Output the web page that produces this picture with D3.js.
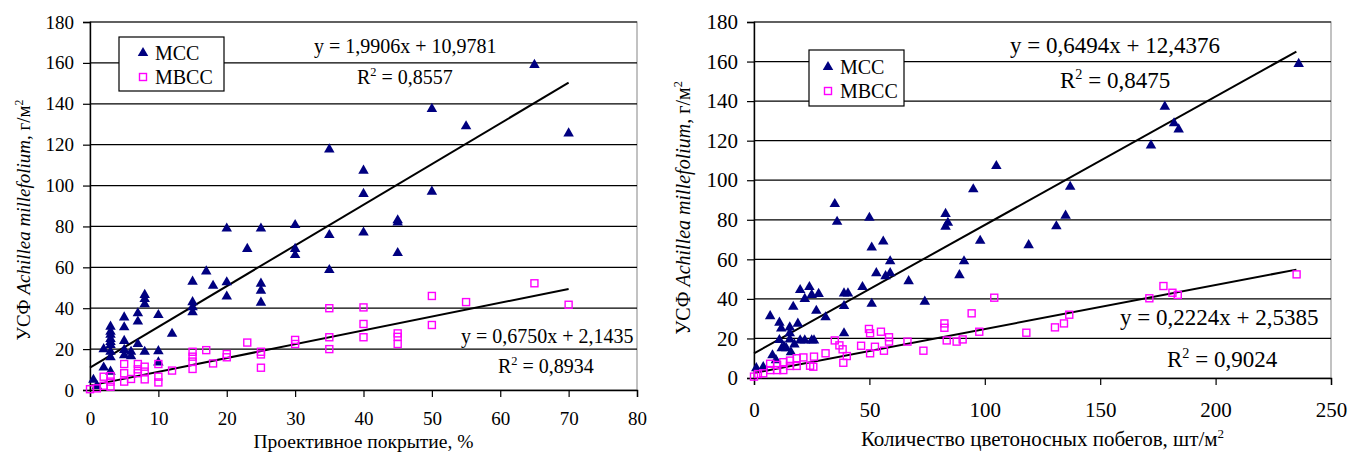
<!DOCTYPE html>
<html>
<head>
<meta charset="utf-8">
<script src="https://cdn.jsdelivr.net/npm/d3@7"></script>
<style>
  body { margin: 0; background: #fff; }
  text { font-family: "Liberation Serif", "Times New Roman", serif; fill: #000; }
</style>
</head>
<body>
<svg id="chart" width="1348" height="452"></svg>
<script>
// ---- data ----
var yTicks = [0, 20, 40, 60, 80, 100, 120, 140, 160, 180];
var coverTicks = [0, 10, 20, 30, 40, 50, 60, 70, 80];
var shootTicks = [0, 50, 100, 150, 200, 250];
var seriesNames = ["МСС", "МВСС"];

// projective cover (%) vs biomass
var coverMcc = [
  [0.5,5],[1,2],[2,20],[2,11],
  [3,31],[3,28.5],[3,27],[3,25],[3,23.5],[3,22],[3,18.7],[3,16],[3,9],
  [5,35.5],[5,30.7],[5,24],[5,19.6],[5,17],
  [6,18.7],[6,16.5],
  [7,37.5],[7,33.5],[7,22.5],
  [8,46.5],[8,44.5],[8,42],[8,18.7],
  [10,36.7],[10,19],[10,13.5],
  [12,27.5],
  [15,53],[15,43],[15,40.5],[15,38],
  [17,58],[18,51],
  [20,79],[20,52.7],[20,45.7],
  [23,69],
  [25,79],[25,52],[25,48.6],[25,42.7],
  [30,80.7],[30,69],[30,66],
  [35,117.7],[35,75.8],[35,58.7],
  [40,107.3],[40,95.9],[40,77],
  [45,83],[45,82],[45,67],
  [50,137.5],[50,97],
  [55,129],
  [65,159],
  [70,125.5]
];
var coverMbcc = [
  [0,0.4],[1,0.8],[2,6.5],[2,2.1],[3,6.8],[3,4.1],[3,1.6],
  [5,12.7],[5,8.2],[5,4.1],[6,5.4],
  [7,12.7],[7,10.1],[7,8.2],
  [8,11.4],[8,9],[8,5.2],
  [10,12.7],[10,6.5],[10,3.7],
  [12,9.5],
  [15,18.7],[15,16.3],[15,13.9],[15,10.3],
  [17,19.5],[18,13],
  [20,17.6],[20,16],
  [23,23.2],
  [25,18.7],[25,17.4],[25,10.9],
  [30,24.5],[30,22.5],
  [35,40],[35,25.8],[35,20],
  [40,40.4],[40,32.3],[40,25.8],
  [45,27.7],[45,26],[45,22.5],
  [50,46],[50,31.8],
  [55,43],
  [65,52.2],
  [70,41.7]
];

// number of flowering shoots vs biomass
var shootMcc = [
  [1,5],[4,5.5],[8,11.5],[9.5,9],[7,31.3],
  [11,28],[11.8,25],[11,19.2],[12,15],[13,16],[14,15],[15.5,25.6],[15.5,22.6],[15.5,19.5],
  [16,13],[17,36],[17.5,17],[19,27.5],[20,19],[20,44.5],[22,40],[22,19],[24,46],[25,42],
  [25,19],[26,19],[27,34],[28,42.5],[31,30.7],
  [35,88],[36,79],[39,42.8],[40.7,42.8],[39,36.4],[39,22.6],[47,46],[50,81],[51,66],[51,37.5],
  [53,53],[56,69],[57,51.5],[59,59],[59,53],[67,49],[74,38.6],
  [83,83],[84,78.5],[83,76.5],[89,52],[91,59],[95,95.4],[98,69.4],[105,107.2],[119,67.2],
  [131,76.7],[135,82.1],[137,96.7],[172,117.6],[178,137.2],[182,128.8],[184,125.7],[236,158.8]
];
var shootMbcc = [
  [0,0.7],[1.7,2],[4,2.4],[7,7.2],[7,4],[10,6.6],[10,4],[12.7,8],[12.7,4],[15.6,8.8],[15.6,6.1],
  [18.5,10],[18.5,6.1],[21.4,10.4],[24.3,6.2],[26,10.8],[25.7,5.7],[31,12.5],[35,19],[37,16.5],
  [38.4,14.5],[38.7,7.7],[40.2,11.1],[46.4,16.3],[49.8,24.8],[50.3,22.6],[50.3,12.5],[52.4,15.8],
  [55,23.4],[56.3,13.8],[58.5,20.6],[58.5,18.4],[66.5,18.4],[73.4,13.8],[82.5,27.6],[82.5,25.4],
  [83.5,19],[87.8,18.4],[90.4,19.5],[94.3,32.7],[97.6,23.4],[104.1,40.6],[118,22.9],[130.4,25.6],
  [134.3,27.6],[136.6,32],[171.3,40.3],[177.4,46.5],[181.3,43.1],[183.6,42],[235.1,52.4]
];

// linear fits printed on the chart: slope, intercept, labels
var coverFitMcc = {a: 1.9906, b: 10.9781, eq: "y = 1,9906x + 10,9781", r2: "0,8557"};
var coverFitMbcc = {a: 0.6750, b: 2.1435, eq: "y = 0,6750x + 2,1435", r2: "0,8934"};
var shootFitMcc = {a: 0.6494, b: 12.4376, eq: "y = 0,6494x + 12,4376", r2: "0,8475"};
var shootFitMbcc = {a: 0.2224, b: 2.5385, eq: "y = 0,2224x + 2,5385", r2: "0,9024"};

var mccColor = "#000080";
var mbccColor = "#FF00FF";

var svg = d3.select("#chart");

function drawChart(o) {
  var g = svg.append("g");
  var x = d3.scaleLinear().domain([o.xTicks[0], o.xTicks[o.xTicks.length - 1]]).range([o.left, o.right]);
  var y = d3.scaleLinear().domain([0, 180]).range([o.bottom, o.top]);

  // plot frame (grey top/right)
  g.append("rect")
    .attr("x", o.left).attr("y", o.top)
    .attr("width", o.right - o.left).attr("height", o.bottom - o.top)
    .attr("fill", "none").attr("stroke", "#999").attr("stroke-width", 1.2);

  // horizontal grid
  g.selectAll("line.grid").data(yTicks.slice(1)).enter().append("line")
    .attr("class", "grid")
    .attr("x1", o.left).attr("x2", o.right)
    .attr("y1", function(d) { return y(d); }).attr("y2", function(d) { return y(d); })
    .attr("stroke", "#000").attr("stroke-width", 1.2);

  // axes
  var yAxis = g.append("g").attr("transform", "translate(" + o.left + ",0)")
    .call(d3.axisLeft(y).tickValues(yTicks).tickSize(7).tickPadding(9));
  var xAxis = g.append("g").attr("transform", "translate(0," + o.bottom + ")")
    .call(d3.axisBottom(x).tickValues(o.xTicks).tickSize(7).tickPadding(o.xPad));
  [yAxis, xAxis].forEach(function(ax) {
    ax.select(".domain").attr("stroke", "#000").attr("stroke-width", 1.4);
    ax.selectAll(".tick line").attr("stroke", "#000").attr("stroke-width", 1.2);
    ax.selectAll(".tick text").attr("font-size", o.tickFont + "px")
      .attr("font-family", "Liberation Serif").attr("fill", "#000");
  });

  // trend lines
  [o.fitMcc, o.fitMbcc].forEach(function(f) {
    g.append("line")
      .attr("x1", x(0)).attr("y1", y(f.b))
      .attr("x2", x(o.fitEnd)).attr("y2", y(f.a * o.fitEnd + f.b))
      .attr("stroke", "#000").attr("stroke-width", 2);
  });

  // MCC triangles
  var tri = d3.symbol().type(d3.symbolTriangle).size(48);
  g.selectAll("path.mcc").data(o.mcc).enter().append("path")
    .attr("class", "mcc")
    .attr("d", tri)
    .attr("transform", function(d) { return "translate(" + x(d[0]) + "," + y(d[1]) + ")"; })
    .attr("fill", mccColor);

  // MBCC squares
  g.selectAll("rect.mbcc").data(o.mbcc).enter().append("rect")
    .attr("class", "mbcc")
    .attr("x", function(d) { return x(d[0]) - 3.5; })
    .attr("y", function(d) { return y(d[1]) - 3.5; })
    .attr("width", 7).attr("height", 7)
    .attr("fill", "none").attr("stroke", mbccColor).attr("stroke-width", 1.4);

  // equations
  function eqLabel(f, pe, pr) {
    g.append("text").attr("x", pe[0]).attr("y", pe[1])
      .attr("font-size", o.eqFont + "px").text(f.eq);
    var t = g.append("text").attr("x", pr[0]).attr("y", pr[1]).attr("font-size", o.eqFont + "px");
    t.append("tspan").text("R");
    t.append("tspan").attr("font-size", "0.62em").attr("dy", "-0.62em").text("2");
    t.append("tspan").attr("dy", "0.38em").text(" = " + f.r2);
  }
  eqLabel(o.fitMcc, o.eqPos[0], o.eqPos[1]);
  eqLabel(o.fitMbcc, o.eqPos[2], o.eqPos[3]);

  // legend
  var lg = o.legend;
  g.append("rect").attr("x", lg.x).attr("y", lg.y).attr("width", lg.w).attr("height", lg.h)
    .attr("fill", "#fff").attr("stroke", "#000").attr("stroke-width", 1.2);
  g.append("path").attr("d", tri)
    .attr("transform", "translate(" + (lg.x + lg.sx) + "," + (lg.y + lg.r1) + ")")
    .attr("fill", mccColor);
  g.append("rect").attr("x", lg.x + lg.sx - 3.5).attr("y", lg.y + lg.r2 - 3.5)
    .attr("width", 7).attr("height", 7)
    .attr("fill", "none").attr("stroke", mbccColor).attr("stroke-width", 1.4);
  g.append("text").attr("x", lg.x + lg.tx).attr("y", lg.y + lg.r1 + 7)
    .attr("font-size", "20px").text(seriesNames[0]);
  g.append("text").attr("x", lg.x + lg.tx).attr("y", lg.y + lg.r2 + 7)
    .attr("font-size", "20px").text(seriesNames[1]);

  // axis titles
  var xt = g.append("text").attr("x", (o.left + o.right) / 2).attr("y", o.xTitleY)
    .attr("text-anchor", "middle").attr("font-size", o.xTitleFont + "px");
  xt.append("tspan").text(o.xTitle);
  if (o.xSup) {
    xt.append("tspan").attr("font-size", "0.62em").attr("dy", "-0.62em").text("2");
  }

  var yt = g.append("text")
    .attr("transform", "translate(" + o.yTitleX + "," + o.yTitleY + ") rotate(-90)")
    .attr("text-anchor", "middle").attr("font-size", o.yTitleFont + "px");
  yt.append("tspan").text("УСФ ");
  yt.append("tspan").attr("font-style", "italic").text("Achillea millefolium");
  yt.append("tspan").text(", г/м");
  yt.append("tspan").attr("font-size", "0.62em").attr("dy", "-0.62em").text("2");
}

drawChart({
  left: 90, right: 637, top: 22, bottom: 390,
  xTicks: coverTicks, xPad: 15, tickFont: 19, eqFont: 20, xTitleFont: 19.5, yTitleFont: 19,
  mcc: coverMcc, mbcc: coverMbcc,
  fitMcc: coverFitMcc, fitMbcc: coverFitMbcc, fitEnd: 70,
  eqPos: [[314, 53], [357, 84], [461, 343], [498, 373]],
  legend: {x: 119, y: 37, w: 105, h: 54, sx: 24, tx: 36, r1: 16, r2: 40},
  xTitle: "Проективное покрытие, %", xSup: false, xTitleY: 448,
  yTitleX: 30, yTitleY: 220
});

drawChart({
  left: 754, right: 1331, top: 22, bottom: 378,
  xTicks: shootTicks, xPad: 17, tickFont: 21, eqFont: 23, xTitleFont: 21, yTitleFont: 20,
  mcc: shootMcc, mbcc: shootMbcc,
  fitMcc: shootFitMcc, fitMbcc: shootFitMbcc, fitEnd: 235,
  eqPos: [[1010, 53], [1060, 88], [1120, 325], [1167, 367]],
  legend: {x: 809, y: 50, w: 95, h: 56, sx: 19, tx: 31, r1: 17, r2: 41},
  xTitle: "Количество цветоносных побегов, шт/м", xSup: true, xTitleY: 446,
  yTitleX: 690, yTitleY: 208
});
</script>
</body>
</html>
